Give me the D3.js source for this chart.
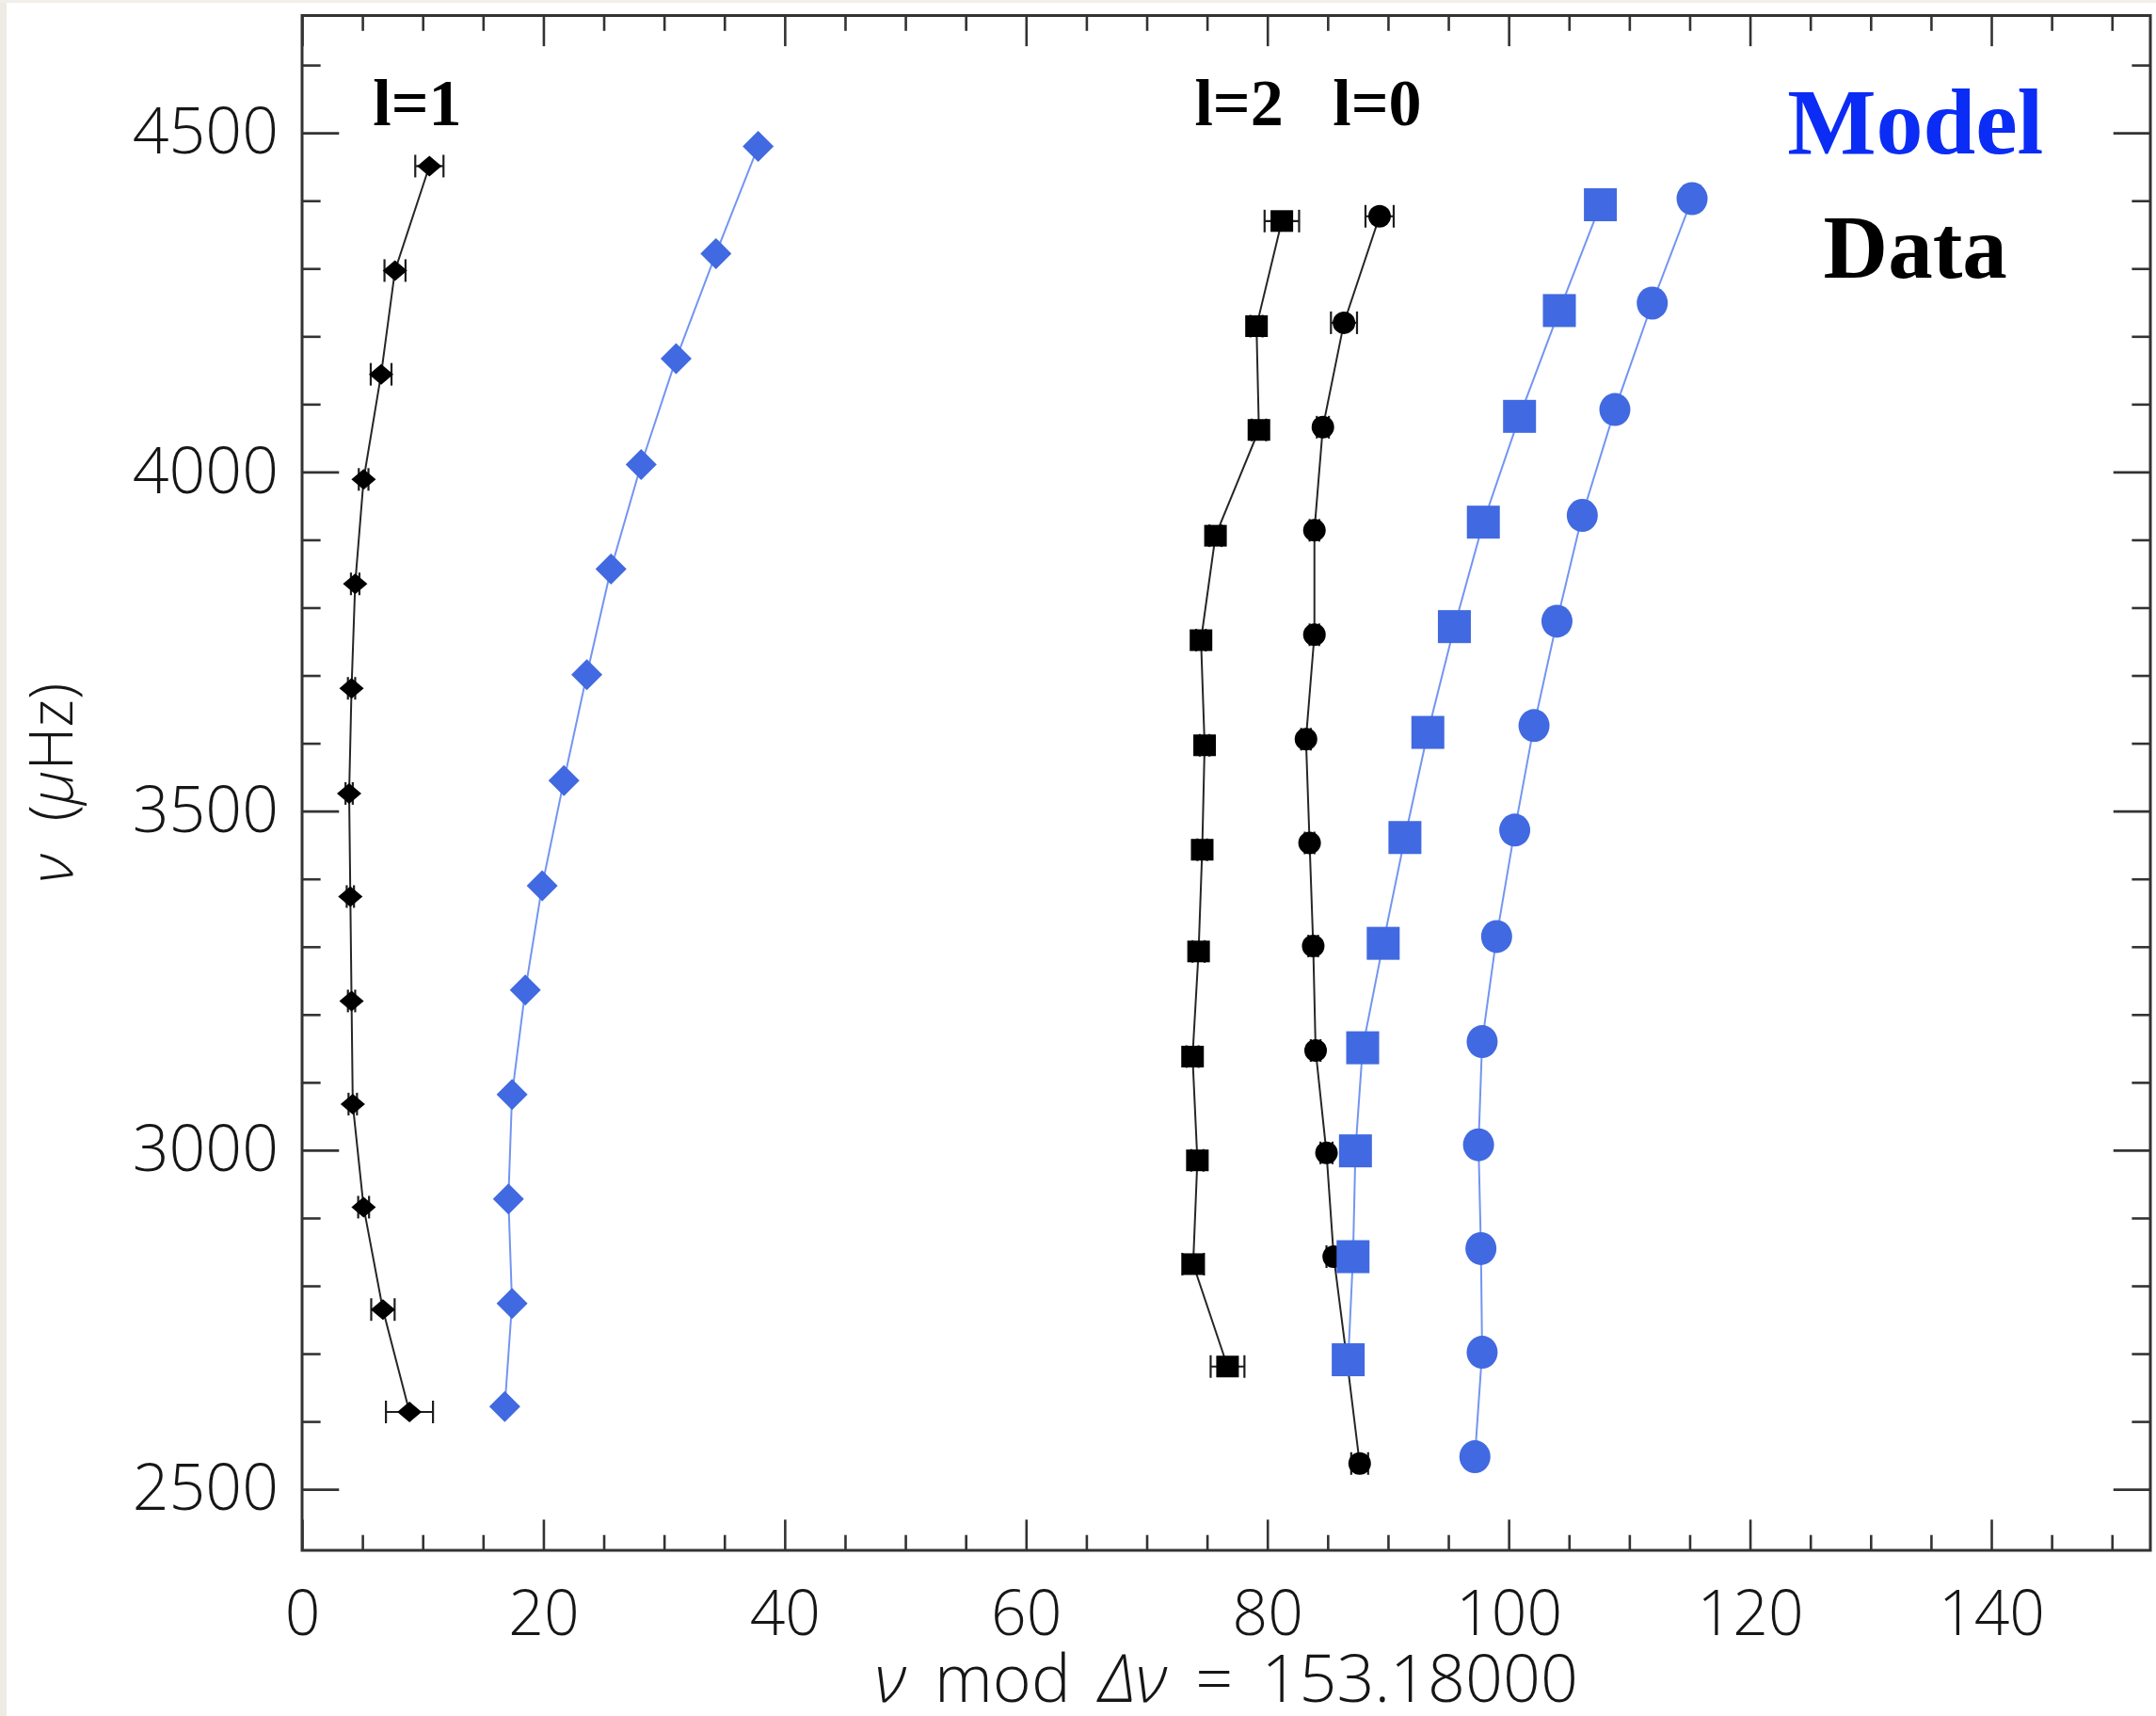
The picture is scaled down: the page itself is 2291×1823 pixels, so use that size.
<!DOCTYPE html>
<html>
<head>
<meta charset="utf-8">
<title>Echelle diagram</title>
<script src="https://cdn.jsdelivr.net/npm/d3@7"></script>
<style>
  html, body { margin: 0; padding: 0; background: #ffffff; }
  svg { display: block; }
</style>
</head>
<body>
<svg id="chart" width="2291" height="1823"></svg>
<script>
// Large frequency separation used to fold the spectrum (μHz)
const deltaNu = 153.18;

// Axis ticks
const xMajorTicks = [0, 20, 40, 60, 80, 100, 120, 140];
const yMajorTicks = [2500, 3000, 3500, 4000, 4500];

// Observed modes (ν in μHz, ν mod Δν in μHz, 1σ error on ν)
const dataL1Freq = [4451, 4297, 4144, 3989, 3835, 3681, 3526, 3374, 3220, 3068, 2916, 2765, 2614];
const dataL1Mod  = [10.55, 7.7, 6.55, 5.1, 4.4, 4.1, 3.9, 4.0, 4.1, 4.2, 5.1, 6.7, 8.9];
const dataL1Err  = [1.17, 0.87, 0.86, 0.4, 0.35, 0.3, 0.3, 0.3, 0.3, 0.35, 0.45, 0.97, 1.95];

const dataL2Freq = [4370, 4215, 4062, 3906, 3752, 3597, 3443, 3293, 3138, 2985, 2832, 2681];
const dataL2Mod  = [81.2, 79.1, 79.3, 75.7, 74.5, 74.8, 74.6, 74.3, 73.8, 74.2, 73.85, 76.7];
const dataL2Err  = [1.43, 0.5, 0.6, 0.5, 0.4, 0.4, 0.4, 0.5, 0.5, 0.5, 0.9, 1.4];

const dataL0Freq = [4377, 4220, 4066, 3914, 3760, 3606, 3453, 3301, 3147, 2996, 2843, 2690, 2538];
const dataL0Mod  = [89.3, 86.35, 84.6, 83.9, 83.9, 83.2, 83.5, 83.8, 84.0, 84.9, 85.5, 86.6, 87.65];
const dataL0Err  = [1.17, 1.08, 0.5, 0.4, 0.4, 0.4, 0.4, 0.4, 0.4, 0.5, 0.6, 0.6, 0.7];

// Model frequencies
const modelL1Freq = [4480, 4322, 4167, 4011, 3857, 3701, 3545, 3390, 3236, 3082, 2928, 2774, 2622];
const modelL1Mod  = [37.8, 34.3, 31.0, 28.1, 25.6, 23.6, 21.7, 19.9, 18.5, 17.4, 17.1, 17.4, 16.8];

const modelL2Freq = [4394, 4238, 4082, 3926, 3772, 3616, 3461, 3305, 3151, 2999, 2843, 2691];
const modelL2Mod  = [107.6, 104.2, 100.9, 97.9, 95.5, 93.3, 91.4, 89.6, 87.9, 87.3, 87.1, 86.7];

const modelL0Freq = [4403, 4249, 4092, 3936, 3780, 3626, 3472, 3315, 3160, 3008, 2855, 2702, 2548];
const modelL0Mod  = [115.2, 111.9, 108.8, 106.1, 104.0, 102.1, 100.5, 99.0, 97.8, 97.5, 97.7, 97.8, 97.2];

// Text annotations
const degreeLabels = ["l=1", "l=2", "l=0"];
const legendLabels = ["Model", "Data"];

// ---------------------------------------------------------------
const svg = d3.select("#chart");
const W = 2291, H = 1823;
const plot = { left: 321, right: 2285, top: 16.5, bottom: 1647 };

const x = d3.scaleLinear().domain([0, deltaNu]).range([plot.left, plot.right]);
const y = d3.scaleLinear().domain([2410, 4673]).range([plot.bottom, plot.top]);

const plotW = plot.right - plot.left;
const plotH = plot.bottom - plot.top;
const xTickLen = 0.02 * plotH;   // ticks along x scale with plot height
const yTickLen = 0.02 * plotW;   // ticks along y scale with plot width

const axisColor = "#333333";
const axisFont = "'Open Sans', 'Liberation Sans', Arial, sans-serif";
const serifFont = "'Liberation Serif', 'Times New Roman', serif";
const labelFill = "#161616";

const dataColor = "#000000";
const dataLineColor = "#262626";
const modelColor = "#4169e1";
const modelLineColor = "#7395f2";

// page background with a pale edge on the left and top
svg.append("rect").attr("width", W).attr("height", H).attr("fill", "#ffffff");
svg.append("rect").attr("x", 0).attr("y", 0).attr("width", 7).attr("height", H).attr("fill", "#eeebe5");
svg.append("rect").attr("x", 0).attr("y", 0).attr("width", W).attr("height", 3).attr("fill", "#f2efea");

// ---------------- axes ----------------
const xMinor = d3.range(0, deltaNu, 5).filter(v => !xMajorTicks.includes(v));
const yMinor = d3.range(2500, 4700, 100).filter(v => !yMajorTicks.includes(v) && v <= 4673);

function styleAxis(g) {
  g.select(".domain").remove();
  g.selectAll(".tick line").attr("stroke", axisColor).attr("stroke-width", 2.6);
}

// bottom
const gx = svg.append("g").attr("transform", `translate(0,${plot.bottom})`)
  .call(d3.axisBottom(x).tickValues(xMajorTicks).tickSizeInner(-xTickLen).tickSizeOuter(0).tickFormat(d3.format("d")))
  .call(styleAxis);
gx.selectAll(".tick text")
  .attr("y", 90).attr("dy", null)
  .attr("font-family", axisFont).attr("font-weight", 300)
  .attr("font-size", 66).attr("fill", labelFill);
svg.append("g").attr("transform", `translate(0,${plot.bottom})`)
  .call(d3.axisBottom(x).tickValues(xMinor).tickSizeInner(-xTickLen / 2).tickSizeOuter(0).tickFormat(""))
  .call(styleAxis);

// top
svg.append("g").attr("transform", `translate(0,${plot.top})`)
  .call(d3.axisTop(x).tickValues(xMajorTicks).tickSizeInner(-xTickLen).tickSizeOuter(0).tickFormat(""))
  .call(styleAxis);
svg.append("g").attr("transform", `translate(0,${plot.top})`)
  .call(d3.axisTop(x).tickValues(xMinor).tickSizeInner(-xTickLen / 2).tickSizeOuter(0).tickFormat(""))
  .call(styleAxis);

// left
const gy = svg.append("g").attr("transform", `translate(${plot.left},0)`)
  .call(d3.axisLeft(y).tickValues(yMajorTicks).tickSizeInner(-yTickLen).tickSizeOuter(0).tickPadding(25).tickFormat(d3.format("d")))
  .call(styleAxis);
gy.selectAll(".tick text")
  .attr("x", -25)
  .attr("font-family", axisFont).attr("font-weight", 300)
  .attr("font-size", 68).attr("fill", labelFill);
svg.append("g").attr("transform", `translate(${plot.left},0)`)
  .call(d3.axisLeft(y).tickValues(yMinor).tickSizeInner(-yTickLen / 2).tickSizeOuter(0).tickFormat(""))
  .call(styleAxis);

// right
svg.append("g").attr("transform", `translate(${plot.right},0)`)
  .call(d3.axisRight(y).tickValues(yMajorTicks).tickSizeInner(-yTickLen).tickSizeOuter(0).tickFormat(""))
  .call(styleAxis);
svg.append("g").attr("transform", `translate(${plot.right},0)`)
  .call(d3.axisRight(y).tickValues(yMinor).tickSizeInner(-yTickLen / 2).tickSizeOuter(0).tickFormat(""))
  .call(styleAxis);

// plot frame
svg.append("rect")
  .attr("x", plot.left).attr("y", plot.top)
  .attr("width", plotW).attr("height", plotH)
  .attr("fill", "none").attr("stroke", axisColor).attr("stroke-width", 3);

// axis titles
const xTitle = svg.append("text")
  .attr("x", (plot.left + plot.right) / 2).attr("y", 1808)
  .attr("text-anchor", "middle")
  .attr("font-family", axisFont).attr("font-weight", 300)
  .attr("font-size", 70).attr("fill", labelFill)
  .attr("word-spacing", 12);
xTitle.append("tspan").attr("font-style", "italic").text("ν");
xTitle.append("tspan").text(" mod ");
xTitle.append("tspan").attr("font-style", "italic").text("Δν");
xTitle.append("tspan").text(" = " + deltaNu.toFixed(5));

const yTitle = svg.append("text")
  .attr("transform", `translate(77,${(plot.top + plot.bottom) / 2}) rotate(-90)`)
  .attr("text-anchor", "middle")
  .attr("font-family", axisFont).attr("font-weight", 300)
  .attr("font-size", 64).attr("fill", labelFill)
  .attr("word-spacing", 18);
yTitle.append("tspan").attr("font-style", "italic").text("ν");
yTitle.append("tspan").text(" (");
yTitle.append("tspan").attr("font-style", "italic").text("μ");
yTitle.append("tspan").text("Hz)");

// ---------------- series ----------------
function toPoints(freq, mod, err) {
  return freq.map((f, i) => ({ freq: f, mod: mod[i], err: err ? err[i] : 0 }));
}

const line = d3.line().x(d => x(d.mod)).y(d => y(d.freq));

function diamondPath(cx, cy, hw, hh) {
  return `M${cx},${cy - hh}L${cx + hw},${cy}L${cx},${cy + hh}L${cx - hw},${cy}Z`;
}

function drawMarkers(g, pts, shape, size, color) {
  const sel = g.selectAll(null).data(pts);
  if (shape === "diamond") {
    sel.enter().append("path")
      .attr("d", d => diamondPath(x(d.mod), y(d.freq), size.hw, size.hh))
      .attr("fill", color);
  } else if (shape === "square") {
    sel.enter().append("rect")
      .attr("x", d => x(d.mod) - size.hw).attr("y", d => y(d.freq) - size.hh)
      .attr("width", size.hw * 2).attr("height", size.hh * 2)
      .attr("fill", color);
  } else {
    sel.enter().append("ellipse")
      .attr("cx", d => x(d.mod)).attr("cy", d => y(d.freq))
      .attr("rx", size.hw).attr("ry", size.hh)
      .attr("fill", color);
  }
}

function drawErrorBars(g, pts) {
  const cap = 12;
  const eb = g.selectAll(null).data(pts).enter().append("g")
    .attr("stroke", "#1e1e1e").attr("stroke-width", 2.2).attr("fill", "none");
  eb.append("line")
    .attr("x1", d => x(d.mod - d.err)).attr("x2", d => x(d.mod + d.err))
    .attr("y1", d => y(d.freq)).attr("y2", d => y(d.freq));
  eb.append("line")
    .attr("x1", d => x(d.mod - d.err)).attr("x2", d => x(d.mod - d.err))
    .attr("y1", d => y(d.freq) - cap).attr("y2", d => y(d.freq) + cap);
  eb.append("line")
    .attr("x1", d => x(d.mod + d.err)).attr("x2", d => x(d.mod + d.err))
    .attr("y1", d => y(d.freq) - cap).attr("y2", d => y(d.freq) + cap);
}

const observed = [
  { pts: toPoints(dataL1Freq, dataL1Mod, dataL1Err), shape: "diamond", size: { hw: 13, hh: 11 } },
  { pts: toPoints(dataL2Freq, dataL2Mod, dataL2Err), shape: "square",  size: { hw: 12, hh: 11.5 } },
  { pts: toPoints(dataL0Freq, dataL0Mod, dataL0Err), shape: "circle",  size: { hw: 12, hh: 12 } }
];
const modelled = [
  { pts: toPoints(modelL1Freq, modelL1Mod), shape: "diamond", size: { hw: 16.5, hh: 16.5 } },
  { pts: toPoints(modelL2Freq, modelL2Mod), shape: "square",  size: { hw: 17.5, hh: 17.5 } },
  { pts: toPoints(modelL0Freq, modelL0Mod), shape: "circle",  size: { hw: 16.5, hh: 17.5 } }
];

// observed ridges
const gData = svg.append("g");
observed.forEach(s => {
  gData.append("path").datum(s.pts)
    .attr("d", line).attr("fill", "none")
    .attr("stroke", dataLineColor).attr("stroke-width", 2);
  drawErrorBars(gData, s.pts);
  drawMarkers(gData, s.pts, s.shape, s.size, dataColor);
});

// model ridges on top
const gModel = svg.append("g");
modelled.forEach(s => {
  gModel.append("path").datum(s.pts)
    .attr("d", line).attr("fill", "none")
    .attr("stroke", modelLineColor).attr("stroke-width", 2);
  drawMarkers(gModel, s.pts, s.shape, s.size, modelColor);
});

// ---------------- annotations ----------------
const degreePos = [ [9.55, 4512], [77.65, 4512], [89.1, 4512] ];
svg.selectAll(null).data(degreeLabels).enter().append("text")
  .attr("x", (d, i) => x(degreePos[i][0]))
  .attr("y", (d, i) => y(degreePos[i][1]))
  .attr("text-anchor", "middle")
  .attr("font-family", serifFont).attr("font-weight", "bold")
  .attr("font-size", 70).attr("fill", "#000000")
  .text(d => d);

const legendColors = ["#0b2cf5", "#000000"];
const legendPos = [ [133.7, 4470], [133.7, 4287] ];
const legendSize = [100, 95];
svg.selectAll(null).data(legendLabels).enter().append("text")
  .attr("x", (d, i) => x(legendPos[i][0]))
  .attr("y", (d, i) => y(legendPos[i][1]))
  .attr("text-anchor", "middle")
  .attr("font-family", serifFont).attr("font-weight", "bold")
  .attr("font-size", (d, i) => legendSize[i]).attr("fill", (d, i) => legendColors[i])
  .text(d => d);
</script>
</body>
</html>
